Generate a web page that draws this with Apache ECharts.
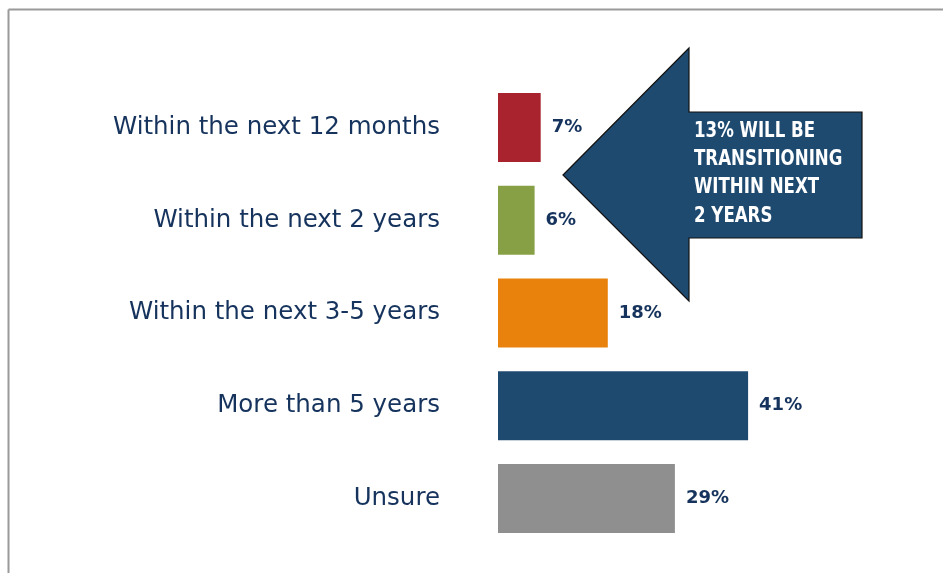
<!DOCTYPE html>
<html>
<head>
<meta charset="utf-8">
<script src="https://cdn.jsdelivr.net/npm/echarts@6/dist/echarts.min.js"></script>
<style>
  html, body { margin: 0; padding: 0; background: #fff; }
  #chart { width: 943px; height: 573px; }
</style>
</head>
<body>
<div id="chart"></div>
<script>
const categories = ['Within the next 12 months', 'Within the next 2 years', 'Within the next 3-5 years', 'More than 5 years', 'Unsure'];
const values = [7, 6, 18, 41, 29];
const barColors = ['#A8232E', '#87A046', '#E8820C', '#1F4A70', '#8F8F8F'];
const calloutLines = ['13% WILL BE', 'TRANSITIONING', 'WITHIN NEXT', '2 YEARS'];

const navy = '#15335C';
const chart = echarts.init(document.getElementById('chart'), null, { renderer: 'canvas' });

chart.setOption({
  backgroundColor: '#fff',
  animation: false,
  grid: { left: 498, top: 81, width: 427, height: 464, containLabel: false, outerBoundsMode: 'none' },
  xAxis: {
    type: 'value', min: 0, max: 70, show: false
  },
  yAxis: {
    type: 'category',
    data: categories,
    inverse: true,
    axisLine: { show: false },
    axisTick: { show: false },
    axisLabel: {
      color: navy,
      fontSize: 24.5,
      fontFamily: '"DejaVu Sans", sans-serif',
      margin: 58,
      padding: [0, 0, 8, 0]
    }
  },
  series: [{
    type: 'bar',
    data: values.map((v, i) => ({ value: v, itemStyle: { color: barColors[i] } })),
    barWidth: 69,
    label: {
      show: true,
      position: 'right',
      distance: 11,
      formatter: '{c}%',
      color: navy,
      fontSize: 18,
      fontWeight: 'bold',
      fontFamily: '"DejaVu Sans", sans-serif',
      padding: [0, 0, 6, 0]
    }
  }],
  graphic: [
    { type: 'line', shape: { x1: 8.5, y1: 9.5, x2: 943, y2: 9.5 }, style: { stroke: '#9A9A9A', lineWidth: 2 } },
    { type: 'line', shape: { x1: 8.5, y1: 9.5, x2: 8.5, y2: 573 }, style: { stroke: '#9A9A9A', lineWidth: 2 } },
    {
      type: 'polygon',
      shape: { points: [[563, 175], [689, 48], [689, 112], [862, 112], [862, 238], [689, 238], [689, 301]] },
      style: { fill: '#1F4A70', stroke: '#111', lineWidth: 1.2 },
      z: 10
    },
    {
      type: 'text',
      x: 694,
      y: 117,
      scaleX: 0.88,
      z: 11,
      style: {
        text: calloutLines.join('\n'),
        fill: '#fff',
        font: 'bold 21px "DejaVu Sans Condensed", sans-serif',
        lineHeight: 28.3
      }
    }
  ]
});
</script>
</body>
</html>
